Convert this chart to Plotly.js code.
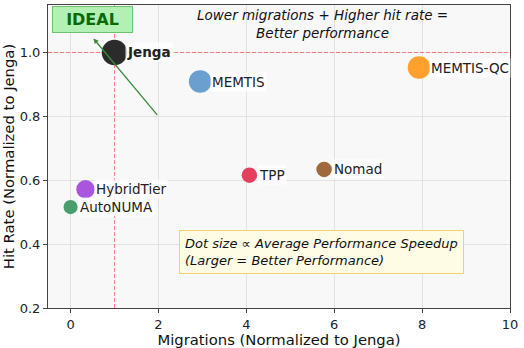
<!DOCTYPE html>
<html>
<head>
<meta charset="utf-8">
<script src="https://cdn.plot.ly/plotly-3.0.1.min.js"></script>
<style>
  html, body { margin: 0; padding: 0; background: #fff; }
  #chart { width: 524px; height: 348px; }
</style>
</head>
<body>
<div id="chart"></div>
<script>
// systems compared against Jenga
const systems = ['Jenga', 'MEMTIS', 'MEMTIS-QC', 'TPP', 'Nomad', 'HybridTier', 'AutoNUMA'];
const migrations = [1.0, 2.95, 7.93, 4.07, 5.77, 0.34, 0.0];
const hitRate = [1.0, 0.909, 0.953, 0.616, 0.634, 0.572, 0.516];
const speedup = [1.62, 1.28, 1.28, 0.6, 0.6, 0.85, 0.5];
const colors = ['#2b2b2b', '#6a9fcf', '#ffa12a', '#e4405c', '#9e6a3c', '#aa55dd', '#4a9e6e'];

// axis ranges and the Jenga baseline
const xRange = [-0.513, 10];
const yRange = [0.2, 1.1487];
const baseline = 1.0;

const font = 'DejaVu Sans, sans-serif';
const refLine = { color: 'rgba(255,70,70,0.65)', width: 1, dash: '4px,2px' };

const baseX = {
  x: [baseline, baseline], y: yRange,
  type: 'scatter', mode: 'lines', line: refLine, hoverinfo: 'skip'
};
const baseY = {
  x: xRange, y: [baseline, baseline],
  type: 'scatter', mode: 'lines', line: refLine, hoverinfo: 'skip'
};

const trace = {
  x: migrations,
  y: hitRate,
  type: 'scatter',
  mode: 'markers',
  marker: {
    size: speedup,
    sizemode: 'area',
    sizeref: 0.005,
    color: colors,
    opacity: 1,
    line: { width: 0 }
  },
  hoverinfo: 'skip'
};

// point labels
const labels = systems.map((name, i) => {
  const d = Math.sqrt(speedup[i] / 0.005);
  return {
    x: migrations[i], y: hitRate[i],
    xref: 'x', yref: 'y',
    text: i === 0 ? '<b>' + name + '</b>' : name,
    showarrow: false,
    xanchor: 'left',
    xshift: d / 2 + 2,
    bgcolor: 'rgba(255,255,255,0.8)',
    borderpad: 1,
    font: { family: font, size: 13.5, color: '#222' }
  };
});

const notes = [
  {
    x: 0.52, y: 1.044, ax: 2, ay: 0.8,
    xref: 'x', yref: 'y', axref: 'x', ayref: 'y',
    text: '', showarrow: true,
    arrowhead: 2, arrowsize: 0.8, arrowwidth: 1.3, arrowcolor: '#3d8b3d'
  },
  {
    x: 0.5, y: 1.103, xref: 'x', yref: 'y',
    text: '<b>IDEAL</b>', showarrow: false,
    width: 75, height: 21,
    bgcolor: '#b3f0b3', bordercolor: '#70c070', borderwidth: 1, borderpad: 2,
    font: { family: font, size: 16, color: '#0a6a0a' }
  },
  {
    x: 5.74, y: 1.09, xref: 'x', yref: 'y',
    text: '<i>Lower migrations + Higher hit rate =<br>Better performance</i>',
    showarrow: false, align: 'center',
    font: { family: font, size: 13.5, color: '#111' }
  },
  {
    x: 5.7, y: 0.375, xref: 'x', yref: 'y',
    text: '<i>Dot size ∝ Average Performance Speedup<br>(Larger = Better Performance)</i>',
    showarrow: false, align: 'left',
    bgcolor: '#fffce6', bordercolor: '#f5cf70', borderwidth: 1, borderpad: 5,
    font: { family: font, size: 13, color: '#111' }
  }
];

const layout = {
  width: 524,
  height: 348,
  margin: { l: 48, r: 14, t: 5, b: 40 },
  paper_bgcolor: '#ffffff',
  plot_bgcolor: '#f8f8f8',
  showlegend: false,
  font: { family: font, color: '#222' },
  xaxis: {
    title: { text: 'Migrations (Normalized to Jenga)', font: { size: 14.8, color: '#111' }, standoff: 4 },
    range: xRange,
    tickvals: [0, 2, 4, 6, 8, 10],
    tickfont: { size: 13, color: '#222' },
    showgrid: true, gridcolor: '#e2e2e2', gridwidth: 1,
    zeroline: false,
    showline: true, linecolor: '#444', linewidth: 1, mirror: true,
    ticks: 'outside', ticklen: 4, tickcolor: '#444'
  },
  yaxis: {
    title: { text: 'Hit Rate (Normalized to Jenga)', font: { size: 14.8, color: '#111' }, standoff: 6 },
    range: yRange,
    tickvals: [0.2, 0.4, 0.6, 0.8, 1.0],
    ticktext: ['0.2', '0.4', '0.6', '0.8', '1.0'],
    tickfont: { size: 13, color: '#222' },
    showgrid: true, gridcolor: '#e2e2e2', gridwidth: 1,
    zeroline: false,
    showline: true, linecolor: '#444', linewidth: 1, mirror: true,
    ticks: 'outside', ticklen: 4, tickcolor: '#444'
  },
  annotations: notes.concat(labels)
};

Plotly.newPlot('chart', [baseX, baseY, trace], layout, { displayModeBar: false, staticPlot: true });
</script>
</body>
</html>
